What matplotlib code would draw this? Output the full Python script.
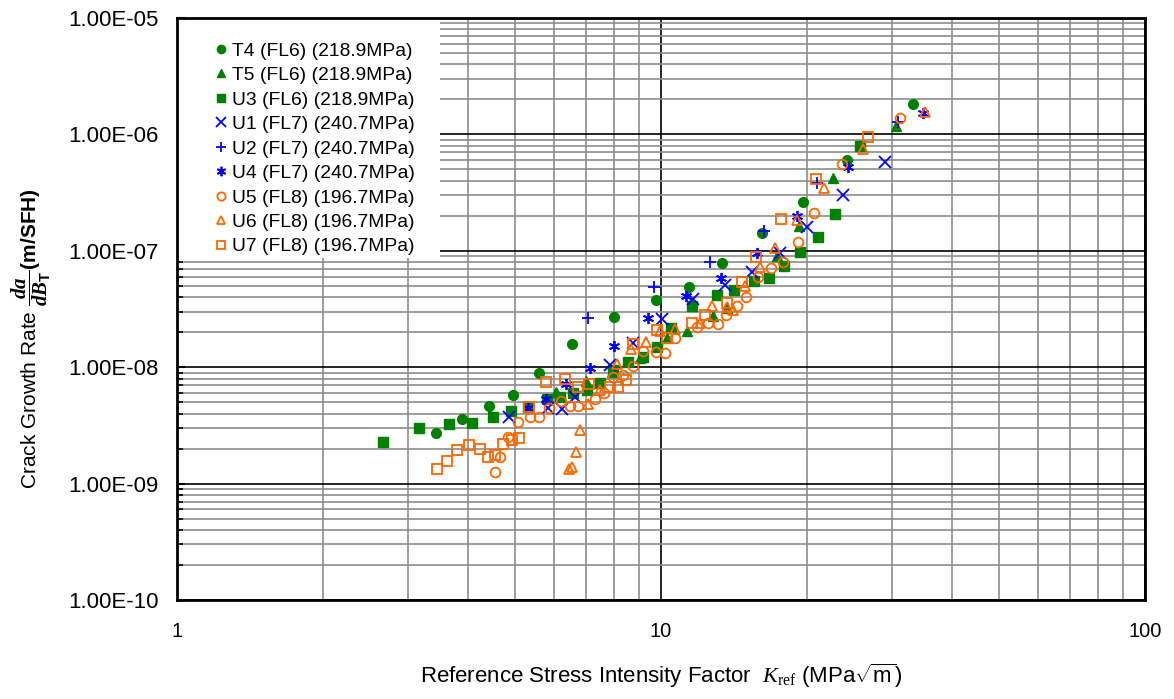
import matplotlib
matplotlib.use("Agg")
import matplotlib.pyplot as plt
from matplotlib.patches import Rectangle
from matplotlib.ticker import LogLocator, FuncFormatter, NullFormatter

plt.rcParams['font.family'] = ['Liberation Sans', 'DejaVu Sans']
plt.rcParams['mathtext.fontset'] = 'custom'
plt.rcParams['mathtext.rm'] = 'Liberation Serif'
plt.rcParams['mathtext.it'] = 'Liberation Serif:italic'
plt.rcParams['mathtext.bf'] = 'Liberation Sans:bold'
plt.rcParams['mathtext.bfit'] = 'Liberation Serif:bold:italic'
plt.rcParams['mathtext.sf'] = 'Liberation Sans'

# data (K in MPa*sqrt(m), da/dB in m/SFH)
t4_k = [3.43, 3.88, 4.41, 4.95, 5.60, 6.55, 8.0, 9.76, 11.43, 13.37, 16.2, 19.65, 24.2, 33.2]
t4_r = [2.72e-9, 3.59e-9, 4.64e-9, 5.77e-9, 8.9e-9, 1.58e-8, 2.70e-8, 3.78e-8, 4.89e-8,
        7.86e-8, 1.42e-7, 2.62e-7, 6.03e-7, 1.82e-6]

t5_k = [6.07, 7.0, 7.92, 9.05, 10.3, 11.3, 12.8, 13.7, 17.4, 19.3, 22.7, 30.6]
t5_r = [6.12e-9, 7.6e-9, 9.1e-9, 1.2e-8, 1.78e-8, 2.05e-8, 2.75e-8, 3.23e-8, 9.0e-8,
        1.63e-7, 4.22e-7, 1.18e-6]

u3_k = [2.665, 3.162, 3.65, 4.07, 4.50, 4.90, 5.31, 5.81, 6.19, 6.58, 7.03, 7.48, 7.96, 8.55,
        9.18, 9.81, 10.5, 11.6, 13.05, 14.15, 15.6, 16.7, 17.95, 19.4, 21.1, 22.9, 25.8]
u3_r = [2.28e-9, 3.0e-9, 3.25e-9, 3.32e-9, 3.73e-9, 4.2e-9, 4.55e-9, 5.33e-9, 5.55e-9, 6.0e-9,
        6.37e-9, 7.31e-9, 9.46e-9, 1.11e-8, 1.22e-8, 1.49e-8, 2.17e-8, 3.36e-8, 4.17e-8,
        4.61e-8, 5.5e-8, 5.84e-8, 7.4e-8, 9.77e-8, 1.31e-7, 2.07e-7, 7.95e-7]

u1_k = [4.85, 5.84, 6.24, 6.64, 7.85, 8.75, 10.05, 11.65, 13.56, 15.4, 17.6, 20.0, 23.8, 29.0]
u1_r = [3.73e-9, 4.46e-9, 4.37e-9, 5.55e-9, 1.045e-8, 1.61e-8, 2.6e-8, 3.85e-8, 5.08e-8,
        6.58e-8, 9.57e-8, 1.6e-7, 3.01e-7, 5.79e-7]

u2_k = [7.06, 9.67, 12.6, 16.3, 21.0, 30.9]
u2_r = [2.65e-8, 4.89e-8, 8.0e-8, 1.48e-7, 3.82e-7, 1.28e-6]

u4_k = [5.31, 5.79, 6.36, 7.13, 8.0, 9.4, 11.26, 13.3, 15.8, 19.1, 24.3, 34.8]
u4_r = [4.46e-9, 5.33e-9, 7.18e-9, 9.85e-9, 1.52e-8, 2.65e-8, 4.09e-8, 5.84e-8, 9.57e-8,
        1.99e-7, 5.25e-7, 1.53e-6]

u5_k = [4.54, 4.65, 4.83, 5.07, 5.36, 5.60, 5.87, 6.21, 6.49, 6.74, 7.31, 7.63, 7.96, 8.35,
        8.75, 9.18, 9.76, 10.2, 10.7, 11.87, 12.5, 13.1, 13.6, 14.35, 15.0, 15.9, 16.9, 17.9,
        19.2, 20.7, 23.7, 31.2]
u5_r = [1.26e-9, 1.69e-9, 2.51e-9, 3.38e-9, 3.73e-9, 3.73e-9, 4.46e-9, 5.13e-9, 4.64e-9,
        4.64e-9, 5.33e-9, 6.0e-9, 8.24e-9, 8.57e-9, 1.02e-8, 1.38e-8, 1.35e-8, 1.32e-8,
        1.78e-8, 2.21e-8, 2.40e-8, 2.35e-8, 2.81e-8, 3.36e-8, 4.01e-8, 5.96e-8, 7.12e-8,
        8.0e-8, 1.19e-7, 2.11e-7, 5.57e-7, 1.38e-6]

u6_k = [6.46, 6.55, 6.68, 6.80, 7.06, 7.48, 8.11, 8.67, 9.31, 9.95, 10.7, 12.04, 12.75, 13.7,
        14.1, 14.9, 16.0, 17.2, 19.1, 21.7, 26.1, 35.1]
u6_r = [1.33e-9, 1.39e-9, 1.87e-9, 2.89e-9, 4.83e-9, 6.37e-9, 1.065e-8, 1.43e-8, 1.65e-8,
        2.05e-8, 2.13e-8, 2.40e-8, 3.36e-8, 3.29e-8, 3.10e-8, 4.99e-8, 7.26e-8, 1.06e-7,
        1.84e-7, 3.46e-7, 7.49e-7, 1.56e-6]

u7_k = [3.44, 3.61, 3.79, 4.01, 4.23, 4.39, 4.54, 4.72, 4.92, 5.09, 5.34, 5.79, 6.34, 6.74,
        7.10, 7.85, 8.15, 8.47, 8.75, 9.81, 10.3, 11.6, 12.3, 13.7, 14.7, 15.7, 17.7, 20.9, 26.8]
u7_r = [1.33e-9, 1.56e-9, 1.95e-9, 2.15e-9, 1.98e-9, 1.69e-9, 1.76e-9, 2.19e-9, 2.37e-9,
        2.47e-9, 4.55e-9, 7.46e-9, 7.92e-9, 6.76e-9, 7.18e-9, 6.76e-9, 6.76e-9, 7.76e-9,
        1.58e-8, 2.09e-8, 1.78e-8, 2.40e-8, 2.81e-8, 3.56e-8, 5.4e-8, 8.85e-8, 1.88e-7,
        4.14e-7, 9.5e-7]

green = '#008000'
blue = '#0000FF'
orange = '#FF6600'

fig = plt.figure(figsize=(11.74, 6.99), dpi=100)
ax = fig.add_axes([0.1508, 0.1416, 0.8245, 0.8326])

ms = 7
ax.plot(t4_k, t4_r, 'o', color=green, ms=ms, label='T4 (FL6) (218.9MPa)')
ax.plot(t5_k, t5_r, '^', color=green, ms=ms, label='T5 (FL6) (218.9MPa)')
ax.plot(u3_k, u3_r, 's', color=green, ms=ms, label='U3 (FL6) (218.9MPa)')
ax.plot(u1_k, u1_r, 'x', color=blue, ms=ms + 1, mew=1.3, label='U1 (FL7) (240.7MPa)')
ax.plot(u2_k, u2_r, '+', color=blue, ms=ms + 2, mew=1.3, label='U2 (FL7) (240.7MPa)')
ax.plot(u4_k, u4_r, marker=(6, 2, 0), ls='none', color=blue, ms=ms + 1, mew=1.3,
        label='U4 (FL7) (240.7MPa)')
ax.plot(u5_k, u5_r, 'o', color=orange, mfc='none', mew=1.3, ms=ms, label='U5 (FL8) (196.7MPa)')
ax.plot(u6_k, u6_r, '^', color=orange, mfc='none', mew=1.3, ms=ms, label='U6 (FL8) (196.7MPa)')
ax.plot(u7_k, u7_r, 's', color=orange, mfc='none', mew=1.3, ms=ms, label='U7 (FL8) (196.7MPa)')

ax.set_xscale('log')
ax.set_yscale('log')
ax.set_xlim(1, 100)
ax.set_ylim(1e-10, 1e-5)

ax.xaxis.set_major_locator(LogLocator(base=10, numticks=10))
ax.xaxis.set_minor_locator(LogLocator(base=10, subs=range(2, 10), numticks=20))
ax.yaxis.set_major_locator(LogLocator(base=10, numticks=10))
ax.yaxis.set_minor_locator(LogLocator(base=10, subs=range(2, 10), numticks=20))
ax.xaxis.set_major_formatter(FuncFormatter(lambda v, p: '%g' % v))
ax.xaxis.set_minor_formatter(NullFormatter())
ax.yaxis.set_major_formatter(FuncFormatter(lambda v, p: '%.2E' % v))
ax.yaxis.set_minor_formatter(NullFormatter())

ax.grid(True, which='minor', color='#8c8c8c', lw=1.2)
ax.grid(True, which='major', color='black', lw=1.2)
ax.set_axisbelow(True)

ax.tick_params(axis='y', which='major', direction='in', length=6, width=1.5, labelsize=16, pad=13)
ax.tick_params(axis='y', which='minor', direction='in', length=4, width=1.2)
ax.tick_params(axis='x', which='both', length=0, labelsize=14.5, pad=16)
for s in ax.spines.values():
    s.set_linewidth(2)
    s.set_color('black')

ax.set_xlabel(r'Reference Stress Intensity Factor  $K_{\mathrm{ref}}$ (MPa$\sqrt{\mathsf{m}}$)',
              fontsize=16, labelpad=15)
ax.set_ylabel(r'Crack Growth Rate $\dfrac{\mathbfit{da}}{\mathbfit{dB}_\mathbf{T}}\mathbf{(m/SFH)}$',
              fontsize=15)
ax.yaxis.set_label_coords(-0.128, 0.45)

# white panel behind the legend, as in the source chart
ax.add_patch(Rectangle((0, 0.588), 0.272, 0.412, transform=ax.transAxes,
                       facecolor='white', edgecolor='none', zorder=1.5))
leg = ax.legend(loc='upper left', bbox_to_anchor=(0.025, 0.975), fontsize=13.9, frameon=False,
                labelspacing=0.36, handletextpad=0.1, handlelength=1.0, markerscale=0.85,
                borderpad=0.5, borderaxespad=0)

fig.savefig('out.png', dpi=100)
